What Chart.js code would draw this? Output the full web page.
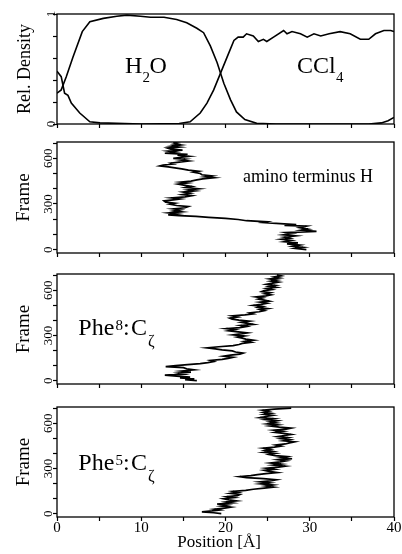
<!DOCTYPE html>
<html>
<head>
<meta charset="utf-8">
<script src="https://cdn.jsdelivr.net/npm/chart.js@4"></script>
<style>
  html, body { margin: 0; padding: 0; background: #fff; }
  body { position: relative; width: 402px; height: 554px; overflow: hidden; }
  canvas { position: absolute; left: 0; }
</style>
</head>
<body>
<canvas id="density" width="402" height="135" style="top:0px"></canvas>
<canvas id="amino" width="402" height="133" style="top:130px"></canvas>
<canvas id="phe8" width="402" height="132" style="top:262px"></canvas>
<canvas id="phe5" width="402" height="159" style="top:395px"></canvas>
<script>
// tick labels
const positionTicks = [0, 10, 20, 30, 40];
const densityTicks = [0, 1];
const frameTicks = [0, 300, 600];

// top panel: relative density vs position
const waterPos = [0, 0.5, 1.1, 1.9, 3.0, 3.9, 5.5, 7.1, 8.3, 9.9, 11.1, 12.7, 14.2, 15.4, 16.6, 17.4, 18.2, 19.0, 19.8, 20.6, 21.3, 22.3, 23.7, 26, 30, 34, 37, 38.5, 39.3, 40];
const waterDensity = [0.28, 0.31, 0.43, 0.61, 0.84, 0.93, 0.96, 0.98, 0.99, 0.98, 0.97, 0.97, 0.95, 0.92, 0.87, 0.83, 0.71, 0.56, 0.37, 0.22, 0.11, 0.04, 0.006, 0, 0, 0, 0, 0.01, 0.03, 0.06];
const cclPos = [0, 0.5, 0.9, 1.3, 1.7, 2.7, 3.9, 5.1, 10, 14.5, 15.8, 17.0, 17.8, 18.6, 19.4, 20.2, 21.0, 21.5, 22.1, 22.5, 23.3, 23.9, 24.5, 24.9, 25.7, 26.9, 27.3, 27.9, 28.9, 29.7, 30.5, 31.3, 32.3, 33.6, 34.8, 36.0, 37.0, 37.8, 38.8, 39.6, 40];
const cclDensity = [0.48, 0.43, 0.28, 0.26, 0.19, 0.10, 0.02, 0.01, 0, 0.005, 0.02, 0.10, 0.19, 0.31, 0.46, 0.61, 0.76, 0.79, 0.79, 0.82, 0.80, 0.75, 0.77, 0.75, 0.79, 0.85, 0.82, 0.84, 0.82, 0.79, 0.82, 0.80, 0.82, 0.84, 0.82, 0.77, 0.77, 0.82, 0.85, 0.85, 0.84];

// amino terminus H trajectory
const aminoFrame = [0, 8, 15, 22, 30, 38, 45, 52, 60, 68, 75, 82, 90, 97, 105, 112, 120, 128, 135, 145, 155, 160, 165, 172, 178, 183, 190, 198, 205, 212, 218, 224, 229, 235, 241, 248, 255, 262, 268, 275, 283, 290, 298, 305, 312, 320, 327, 333, 340, 347, 355, 362, 370, 378, 386, 393, 400, 408, 415, 422, 430, 438, 444, 450, 458, 465, 472, 478, 485, 492, 500, 508, 515, 522, 530, 537, 544, 550, 556, 562, 568, 575, 582, 589, 595, 600, 607, 613, 620, 626, 633, 640, 647, 654, 660, 667, 674, 680, 688, 694, 700, 705];
const aminoPos = [29.6, 28.3, 29.2, 28.0, 28.8, 27.3, 28.6, 27.0, 27.8, 26.6, 27.6, 27.0, 28.3, 26.9, 27.9, 27.2, 30.8, 29.0, 29.8, 28.8, 29.6, 27.0, 28.4, 26.0, 24.5, 24.9, 22.5, 21.5, 20.0, 18.0, 16.5, 14.5, 13.2, 14.2, 13.3, 14.8, 13.9, 14.6, 13.8, 15.2, 15.6, 14.2, 13.4, 14.0, 12.9, 12.7, 13.8, 14.6, 13.6, 15.2, 16.0, 14.9, 15.8, 15.0, 16.4, 15.6, 16.8, 15.3, 16.0, 15.2, 14.4, 15.5, 14.7, 15.9, 16.6, 17.3, 18.6, 17.6, 18.4, 17.2, 17.0, 16.2, 16.8, 15.6, 14.8, 14.0, 13.2, 12.2, 12.6, 13.8, 13.5, 14.5, 15.6, 14.6, 15.2, 13.8, 14.8, 15.7, 14.3, 15.5, 12.8, 14.0, 13.2, 14.9, 13.5, 13.1, 14.5, 13.6, 14.7, 13.9, 14.3, 13.8];

// Phe8 C-zeta trajectory
const phe8Frame = [0, 6, 12, 18, 24, 30, 37, 43, 50, 57, 64, 72, 79, 86, 93, 100, 107, 113, 120, 127, 134, 141, 148, 155, 162, 169, 176, 183, 190, 197, 204, 211, 218, 225, 232, 240, 247, 254, 261, 268, 275, 282, 289, 296, 303, 310, 317, 324, 331, 338, 345, 352, 359, 366, 373, 380, 387, 394, 401, 408, 415, 422, 429, 436, 443, 450, 457, 464, 471, 478, 485, 492, 499, 506, 513, 520, 527, 534, 541, 548, 555, 562, 569, 576, 583, 590, 597, 604, 611, 618, 625, 632, 639, 646, 653, 660, 667, 674, 681, 688, 695, 702];
const phe8Pos = [16.6, 15.2, 16.3, 14.6, 15.8, 14.2, 12.8, 15.0, 14.4, 15.9, 14.8, 16.3, 15.4, 15.0, 12.9, 14.1, 15.5, 17.0, 17.9, 18.6, 18.2, 19.6, 20.3, 20.9, 19.8, 20.6, 21.7, 22.1, 21.2, 20.8, 19.6, 18.8, 17.8, 19.2, 20.9, 21.6, 22.0, 23.0, 22.3, 23.3, 22.4, 22.0, 21.4, 22.2, 20.9, 21.8, 22.6, 21.5, 20.4, 21.1, 20.1, 21.7, 22.5, 21.8, 23.3, 22.6, 21.9, 22.8, 21.6, 20.8, 20.5, 21.4, 20.8, 22.3, 23.3, 22.9, 24.0, 24.6, 24.1, 25.0, 23.9, 24.4, 23.3, 24.2, 24.9, 24.1, 25.2, 24.6, 23.9, 24.4, 23.6, 24.8, 25.4, 24.7, 25.3, 24.3, 24.6, 25.5, 24.9, 26.0, 25.2, 25.9, 24.9, 25.6, 26.3, 25.4, 26.1, 25.3, 26.4, 25.8, 26.6, 26.1];

// Phe5 C-zeta trajectory
const phe5Frame = [0, 6, 12, 18, 24, 30, 37, 43, 50, 57, 64, 71, 78, 85, 92, 99, 106, 113, 120, 127, 134, 141, 148, 155, 162, 169, 176, 183, 190, 197, 204, 211, 218, 225, 232, 239, 245, 252, 259, 266, 273, 280, 287, 294, 301, 308, 315, 322, 329, 336, 343, 350, 357, 364, 371, 378, 385, 392, 399, 406, 413, 420, 427, 434, 441, 448, 455, 462, 469, 476, 483, 490, 497, 504, 511, 518, 525, 532, 539, 546, 553, 560, 567, 574, 581, 588, 595, 602, 609, 616, 623, 630, 637, 644, 651, 658, 665, 672, 679, 686, 693, 700];
const phe5Pos = [19.5, 18.6, 17.2, 18.4, 19.3, 18.7, 19.9, 20.6, 19.5, 20.2, 19.0, 20.8, 20.1, 21.3, 20.4, 19.8, 21.0, 20.2, 21.4, 21.7, 20.6, 21.5, 20.9, 22.4, 23.3, 24.6, 25.7, 24.8, 25.6, 24.2, 25.2, 24.1, 25.3, 26.0, 24.5, 22.5, 21.7, 23.0, 23.8, 24.8, 26.1, 25.2, 24.6, 25.8, 24.9, 26.3, 27.1, 25.7, 26.6, 25.4, 26.5, 27.2, 26.3, 27.9, 26.6, 27.3, 25.9, 25.2, 25.9, 24.6, 25.6, 24.7, 25.3, 24.5, 25.8, 26.6, 26.0, 27.1, 27.6, 28.2, 26.9, 27.6, 26.6, 27.4, 26.2, 27.0, 27.8, 26.9, 25.9, 26.8, 25.8, 27.2, 27.8, 26.4, 25.3, 26.2, 25.0, 26.0, 25.3, 26.1, 24.8, 25.7, 24.1, 24.8, 25.6, 24.6, 25.4, 24.5, 25.1, 24.4, 25.8, 27.8];

const serif = "'Liberation Serif', 'DejaVu Serif', serif";
Chart.defaults.font.family = serif;
Chart.defaults.color = '#000';

const toPoints = (xs, ys) => xs.map((x, i) => ({ x: x, y: ys[i] }));

// box around plot area + free text labels
const framePlugin = {
    id: 'frameAndText',
    afterDraw(chart, args, opts) {
        const { ctx, chartArea: a } = chart;
        ctx.save();
        ctx.strokeStyle = '#000';
        ctx.lineWidth = 1.3;
        ctx.strokeRect(a.left, a.top, a.right - a.left, a.bottom - a.top);
        ctx.fillStyle = '#000';
        ctx.textBaseline = 'alphabetic';
        (opts.texts || []).forEach(t => {
            ctx.font = t.size + 'px ' + serif;
            ctx.fillText(t.text, a.left + t.x, a.top + t.y);
        });
        ctx.restore();
    }
};

function makePanel(id, cfg) {
    const canvas = document.getElementById(id);
    const xHeight = canvas.height - cfg.padTop - cfg.areaHeight;
    return new Chart(canvas, {
        type: 'line',
        data: { datasets: cfg.datasets },
        options: {
            responsive: false,
            animation: false,
            layout: { padding: { top: cfg.padTop, right: 8, left: 0, bottom: 0 } },
            elements: { point: { radius: 0 }, line: { tension: 0 } },
            plugins: {
                legend: { display: false },
                tooltip: { enabled: false },
                frameAndText: { texts: cfg.texts }
            },
            scales: {
                x: {
                    type: 'linear',
                    min: 0, max: 40,
                    border: { display: false },
                    grid: { drawOnChartArea: false, drawTicks: true, tickLength: 4, tickColor: '#000', tickWidth: 1.2 },
                    ticks: {
                        stepSize: 5,
                        autoSkip: false,
                        maxRotation: 0,
                        padding: -2,
                        font: { size: 15 },
                        callback: v => (cfg.showX && positionTicks.includes(v)) ? String(v) : ''
                    },
                    title: {
                        display: !!cfg.showX,
                        // trailing spaces nudge the centred title a bit left, like the original
                        text: 'Position [Å]   ',
                        font: { size: 17 },
                        padding: { top: 0, bottom: 1 }
                    },
                    afterFit: s => { s.height = xHeight; }
                },
                y: {
                    min: cfg.yMin, max: cfg.yMax,
                    border: { display: false },
                    grid: { drawOnChartArea: false, drawTicks: true, tickLength: 4, tickColor: '#000', tickWidth: 1.2 },
                    ticks: {
                        stepSize: cfg.yStep,
                        autoSkip: false,
                        includeBounds: false,
                        minRotation: 90, maxRotation: 90,
                        crossAlign: 'center',
                        padding: cfg.tickPad,
                        font: { size: 13 },
                        callback: v => cfg.yLabels.some(l => Math.abs(l - v) < 1e-6) ? String(v) : ''
                    },
                    title: {
                        display: true,
                        text: cfg.yTitle,
                        font: { size: cfg.titleSize },
                        padding: { top: cfg.titlePad, bottom: 0 }
                    },
                    afterFit: s => { s.width = 57; }
                }
            }
        },
        plugins: [framePlugin]
    });
}

const lineStyle = { borderColor: '#000', backgroundColor: '#000', fill: false };

makePanel('density', {
    padTop: 14, areaHeight: 110,
    yMin: 0, yMax: 1, yStep: 0.2, yLabels: densityTicks,
    yTitle: 'Rel. Density', titleSize: 18, titlePad: 14, tickPad: -2,
    datasets: [
        Object.assign({ data: toPoints(waterPos, waterDensity), borderWidth: 1.6 }, lineStyle),
        Object.assign({ data: toPoints(cclPos, cclDensity), borderWidth: 1.6 }, lineStyle)
    ],
    texts: [
        { text: 'H', x: 68, y: 59, size: 24 },
        { text: '2', x: 85.5, y: 67.5, size: 15 },
        { text: 'O', x: 92.5, y: 59, size: 24 },
        { text: 'CCl', x: 240, y: 59, size: 24 },
        { text: '4', x: 279, y: 67.5, size: 15 }
    ]
});

const frameAxis = { yMin: -22, yMax: 707, yStep: 100, yLabels: frameTicks, yTitle: 'Frame', titleSize: 19, titlePad: 13, tickPad: -5 };

makePanel('amino', Object.assign({
    padTop: 12, areaHeight: 111,
    datasets: [Object.assign({ data: toPoints(aminoPos, aminoFrame), borderWidth: 1.7 }, lineStyle)],
    texts: [{ text: 'amino terminus H', x: 186, y: 40, size: 18 }]
}, frameAxis));

makePanel('phe8', Object.assign({
    padTop: 12, areaHeight: 110,
    datasets: [Object.assign({ data: toPoints(phe8Pos, phe8Frame), borderWidth: 1.7 }, lineStyle)],
    texts: [
        { text: 'Phe', x: 21.3, y: 61, size: 24 },
        { text: '8', x: 58.5, y: 55.5, size: 15 },
        { text: ':', x: 66, y: 61, size: 24 },
        { text: 'C', x: 74, y: 61, size: 24 },
        { text: 'ζ', x: 91, y: 72, size: 16 }
    ]
}, frameAxis));

makePanel('phe5', Object.assign({
    padTop: 12, areaHeight: 110, showX: true,
    datasets: [Object.assign({ data: toPoints(phe5Pos, phe5Frame), borderWidth: 1.7 }, lineStyle)],
    texts: [
        { text: 'Phe', x: 21.3, y: 63, size: 24 },
        { text: '5', x: 58.5, y: 57.5, size: 15 },
        { text: ':', x: 66, y: 63, size: 24 },
        { text: 'C', x: 74, y: 63, size: 24 },
        { text: 'ζ', x: 91, y: 74, size: 16 }
    ]
}, frameAxis));
</script>
</body>
</html>
